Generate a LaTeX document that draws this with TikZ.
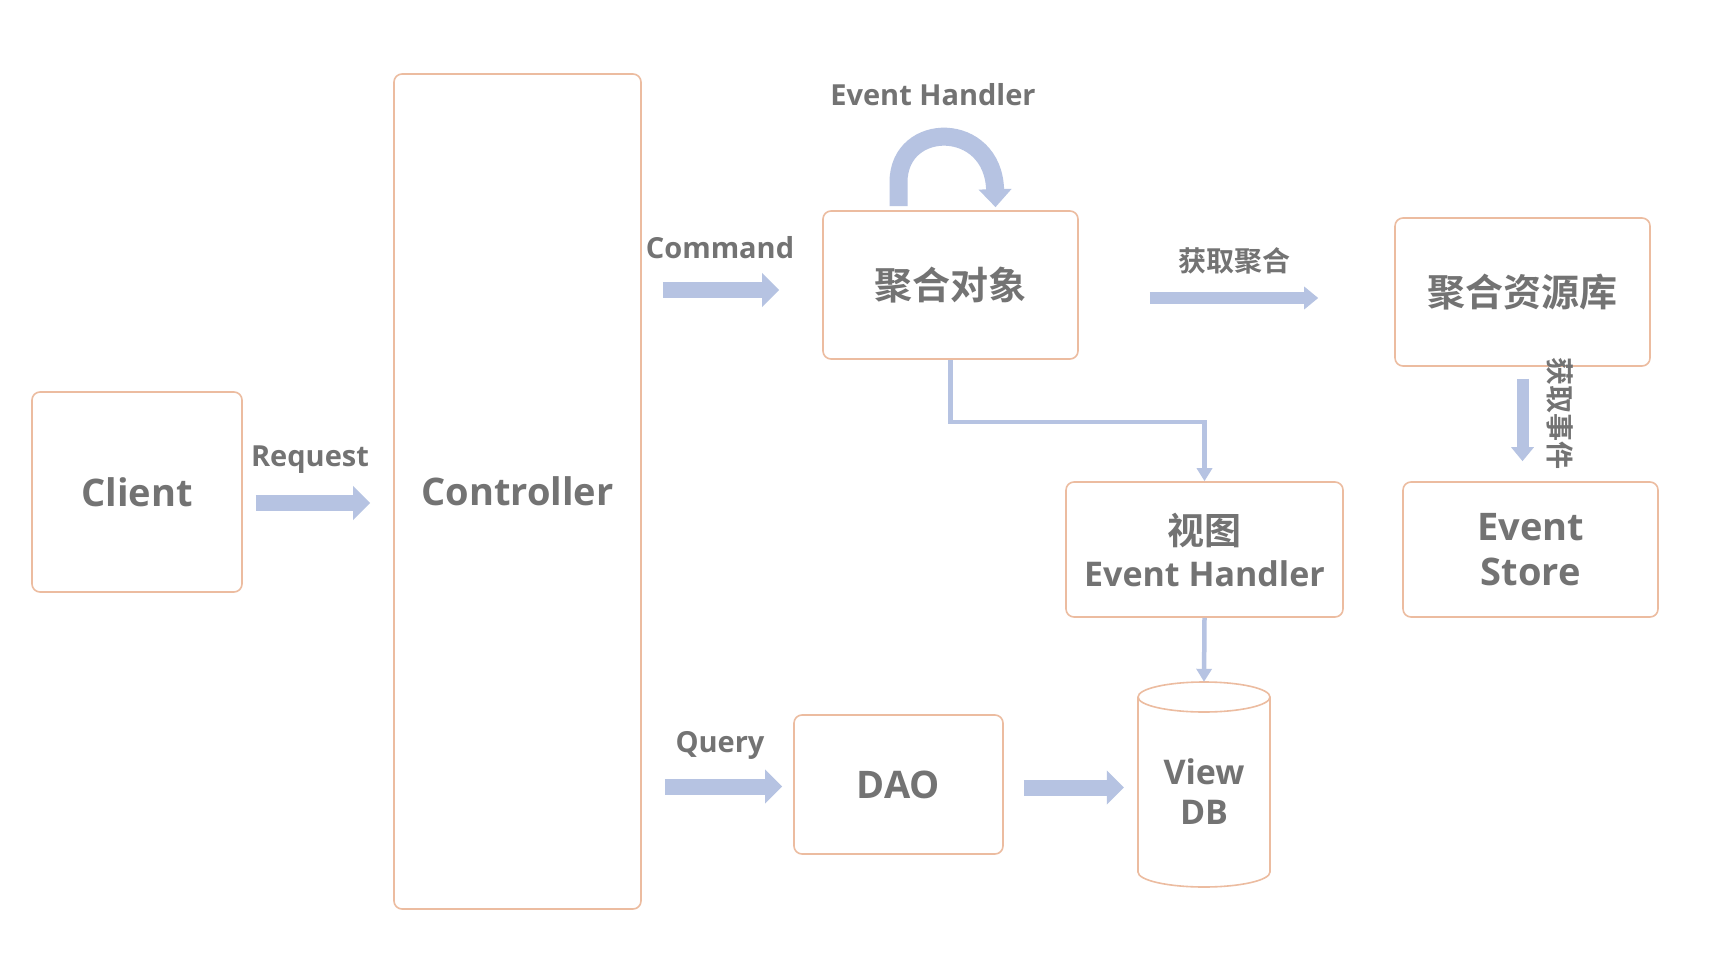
\documentclass[tikz,border=0pt]{standalone}
\usepackage{fontspec}
\setmainfont{Open Sans}
\newfontfamily\cjk{Noto Sans CJK SC}[BoldFont={* Bold}]
\usetikzlibrary{arrows.meta}
\definecolor{boxc}{RGB}{236,188,160}
\definecolor{arrowc}{RGB}{182,195,226}
\definecolor{txtc}{RGB}{115,115,115}
\begin{document}
\begin{tikzpicture}[x=1pt,y=-1pt,
  box/.style={draw=boxc, line width=1.6pt, rounded corners=8pt, fill=white, inner sep=0pt,
    text=txtc, align=center, font=\fontsize{38}{45}\selectfont\bfseries},
  lbl/.style={text=txtc, inner sep=0pt, font=\fontsize{29}{34}\selectfont\bfseries},
  cjklbl/.style={text=txtc, inner sep=0pt, font=\fontsize{28}{34}\selectfont\cjk\bfseries},
  fat/.style={draw=arrowc, line width=16pt, -{Triangle[length=17pt,width=33pt]}},
  medarr/.style={draw=arrowc, line width=12pt, -{Triangle[length=14pt,width=22pt]}},
  conn/.style={draw=arrowc, line width=4.5pt, -{Triangle[length=13pt,width=15pt]}},
  looparr/.style={draw=arrowc, line width=18pt, -{Triangle[length=18pt,width=32pt]}}
]
\fill[white] (0,0) rectangle (1728,960);
\useasboundingbox (0,0) rectangle (1728,960);

% boxes
\node[box, minimum width=210pt, minimum height=200pt] (client) at (137,492) {Client};
\node[box, minimum width=247pt, minimum height=835pt] (ctrl) at (517.5,491.5) {Controller};
\node[box, minimum width=255pt, minimum height=148pt] (agg) at (950.5,285) {\cjk\bfseries 聚合对象};
\node[box, minimum width=255pt, minimum height=148pt] (repo) at (1522.5,292) {\cjk\bfseries 聚合资源库};
\node[box, minimum width=277pt, minimum height=135pt,
  font=\fontsize{34}{42}\selectfont\bfseries] (evh) at (1204.5,549.5) {{\cjk\bfseries\fontsize{37}{42}\selectfont 视图}\\Event Handler};
\node[box, minimum width=255pt, minimum height=135pt] (store) at (1530.5,549.5) {Event\\Store};
\node[box, minimum width=209pt, minimum height=139pt] (dao) at (898.5,784.5) {DAO};

% database cylinder
\draw[draw=boxc, line width=1.6pt, fill=white] (1138,697) -- (1138,872)
  arc[start angle=180, end angle=0, x radius=66, y radius=15] -- (1270,697);
\draw[draw=boxc, line width=1.6pt, fill=white] (1204,697) ellipse [x radius=66, y radius=15];
\node[minimum width=132pt, minimum height=205pt, inner sep=0pt] (dbbody) at (1204,784.5) {};
\node[text=txtc, align=center, inner sep=0pt, font=\fontsize{34}{40}\selectfont\bfseries] (db) at (1204,792) {View\\DB};

% labels
\node[lbl] (lreq) at (310,460) {Request};
\node[lbl] (lcmd) at (720,248) {Command};
\node[lbl] (lqry) at (720,745) {Query};
\node[lbl] (leh) at (933,95) {Event Handler};
\node[cjklbl] (lget) at (1234,261) {获取聚合};
\node[cjklbl, rotate=-90] (lev) at (1560,413) {获取事件};

% fat arrows
\draw[fat] ([xshift=13pt,yshift=-11pt]client.east) -- ([xshift=-23pt,yshift=-11pt]client.east -| ctrl.west);
\draw[fat] ([xshift=21pt,yshift=-5pt]ctrl.east |- agg.west) -- ([xshift=-43pt,yshift=-5pt]agg.west);
\draw[fat] ([xshift=23pt,yshift=-2pt]ctrl.east |- dao.west) -- ([xshift=-11pt,yshift=-2pt]dao.west);
\draw[fat] ([xshift=20pt,yshift=-3pt]dao.east) -- ([xshift=-14pt,yshift=-3pt]dbbody.west |- dao.east);
\draw[medarr] ([xshift=71pt,yshift=-13pt]agg.east) -- ([xshift=-76pt,yshift=-6pt]repo.west);
\draw[medarr] ([yshift=-12pt]repo.south) -- ([yshift=20pt]repo.south |- store.north);

% self loop
\draw[looparr] ([xshift=-52pt,yshift=4pt]agg.north) -- ([xshift=-52pt,yshift=28pt]agg.north)
  .. controls ([xshift=-52pt,yshift=90pt]agg.north) and ([xshift=43pt,yshift=90pt]agg.north)
  .. ([xshift=45pt,yshift=3pt]agg.north);

% thin connectors
\draw[conn] (agg.south) -- ++(0,62) -| (evh.north);
\draw[conn] (evh.south) -- (dbbody.north);
\end{tikzpicture}
\end{document}
